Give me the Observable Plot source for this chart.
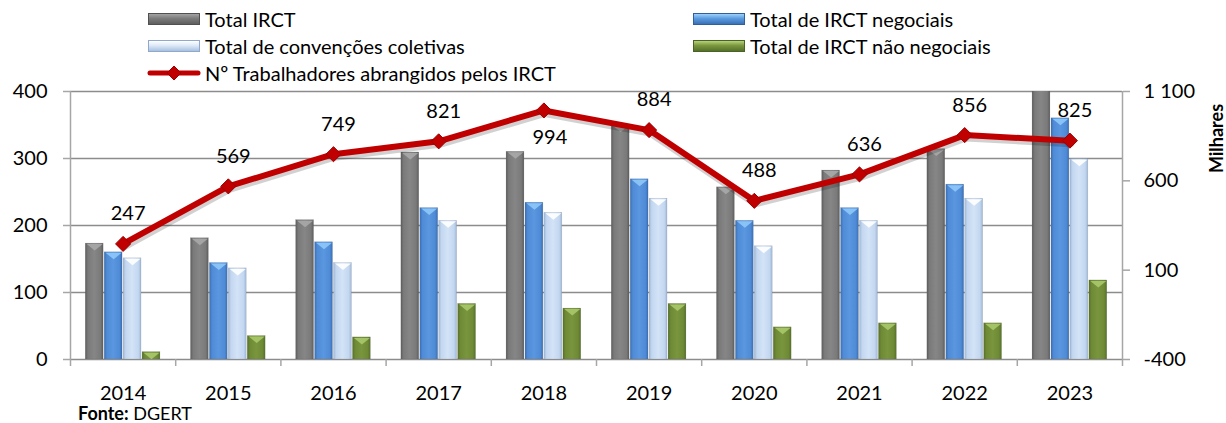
<!DOCTYPE html>
<html><head><meta charset="utf-8">
<script src="https://cdn.jsdelivr.net/npm/d3@7"></script>
<script src="https://cdn.jsdelivr.net/npm/@observablehq/plot@0.6"></script>
<style>
body{margin:0;background:#fff;font-family:Lato,"Open Sans",sans-serif;color:#000;width:1226px;height:423px;overflow:hidden;position:relative;}
#legend{position:relative;height:80px;font-size:20px;}
.li{position:absolute;display:flex;align-items:center;white-space:nowrap;height:22px;}
.sw{width:52px;height:12px;margin-right:5px;box-sizing:border-box;}
#chart{position:relative;height:320px;}
#caption{position:absolute;left:78px;top:402px;font-size:18px;line-height:22px;}
</style></head><body>
<svg width="0" height="0" style="position:absolute">
<defs>
<linearGradient id="gGray" x1="0" x2="1" y1="0" y2="0">
<stop offset="0" stop-color="#5c5c5c"/><stop offset="0.15" stop-color="#7a7a7a"/><stop offset="0.5" stop-color="#868686"/><stop offset="0.85" stop-color="#7a7a7a"/><stop offset="1" stop-color="#5c5c5c"/></linearGradient>
<linearGradient id="gBlue" x1="0" x2="1" y1="0" y2="0">
<stop offset="0" stop-color="#3a6fb5"/><stop offset="0.15" stop-color="#4f8bd6"/><stop offset="0.5" stop-color="#5a97e0"/><stop offset="0.85" stop-color="#4f8bd6"/><stop offset="1" stop-color="#3a6fb5"/></linearGradient>
<linearGradient id="gLight" x1="0" x2="1" y1="0" y2="0">
<stop offset="0" stop-color="#9fb8d8"/><stop offset="0.15" stop-color="#c3d7f0"/><stop offset="0.5" stop-color="#d3e3f7"/><stop offset="0.85" stop-color="#c3d7f0"/><stop offset="1" stop-color="#9fb8d8"/></linearGradient>
<linearGradient id="gGreen" x1="0" x2="1" y1="0" y2="0">
<stop offset="0" stop-color="#55702a"/><stop offset="0.15" stop-color="#6e8a35"/><stop offset="0.5" stop-color="#79953d"/><stop offset="0.85" stop-color="#6e8a35"/><stop offset="1" stop-color="#55702a"/></linearGradient>
</defs></svg>
<div id="legend"></div>
<div id="chart"></div>
<div id="caption"><b>Fonte:</b> DGERT</div>
<script>
// ---- data ----
const years = [2014, 2015, 2016, 2017, 2018, 2019, 2020, 2021, 2022, 2023];
const seriesNames = ["Total IRCT", "Total de IRCT negociais", "Total de convenções coletivas", "Total de IRCT não negociais"];
const totalIRCT    = [173, 181, 208, 309, 310, 350, 257, 282, 314, 478];
const negociais    = [160, 144, 175, 226, 234, 269, 207, 226, 261, 360];
const convencoes   = [151, 136, 144, 207, 219, 240, 169, 207, 240, 299];
const naoNegociais = [11, 35, 33, 83, 76, 83, 48, 54, 54, 118];
const lineName = "Nº Trabalhadores abrangidos pelos IRCT";
const trabalhadores = [247, 569, 749, 821, 994, 884, 488, 636, 856, 825];
const leftTicks = [0, 100, 200, 300, 400];
const rightTicks = [-400, 100, 600, 1100];
const rightLabel = "Milhares";

// ---- styles ----
const fills = ["url(#gGray)", "url(#gBlue)", "url(#gLight)", "url(#gGreen)"];
const capFills = ["#a8a8a8", "#8fc8f8", "#ffffff", "#a9c96c"];
const legendBg = [
  "linear-gradient(#a3a3a3,#7b7b7b 45%,#5f5f5f)",
  "linear-gradient(#9fd0fb,#5b9be0 45%,#3b70b5)",
  "linear-gradient(#ffffff,#dde9f8 45%,#a9c1df)",
  "linear-gradient(#b5d37a,#7b983f 45%,#55702a)"
];
const legendBorder = ["#505050", "#2f5f9d", "#8ea9cc", "#4a6324"];
const red = "#c00000";

// right axis mapping (linear relation between the two axes)
const [rMin, rMax] = [rightTicks[0], rightTicks[rightTicks.length - 1]];
const [lMin, lMax] = [leftTicks[0], leftTicks[leftTicks.length - 1]];
const toLeft = v => lMin + (v - rMin) * (lMax - lMin) / (rMax - rMin);
const toRight = v => rMin + (v - lMin) * (rMax - rMin) / (lMax - lMin);
const fmt = d3.formatLocale({decimal: ",", thousands: " ", grouping: [3], currency: ["", "€"], minus: "-"}).format(",d");

// ---- table ----
const seriesValues = [totalIRCT, negociais, convencoes, naoNegociais];
const bars = [];
seriesValues.forEach((vals, s) => years.forEach((yr, i) => bars.push({year: yr, s, value: vals[i]})));
const line = years.map((yr, i) => ({year: yr, v: trabalhadores[i]}));
const step = 0.18, bw = 0.17;
const cx = d => d.year + (d.s - 1.5) * step;
const xDomain = [years[0] - 0.5, years[years.length - 1] + 0.5];
const bounds = years.map(y => y - 0.5).concat([years[years.length - 1] + 0.5]);

// ---- legend ----
const legend = document.getElementById("legend");
const items = [
  {i: 0, left: 148, top: 8}, {i: 1, left: 693, top: 8},
  {i: 2, left: 148, top: 35}, {i: 3, left: 693, top: 35}
];
items.forEach(({i, left, top}) => {
  const el = document.createElement("div");
  el.className = "li"; el.style.left = left + "px"; el.style.top = top + "px";
  el.innerHTML = `<div class="sw" style="background:${legendBg[i]};border:1px solid ${legendBorder[i]}"></div><span>${seriesNames[i]}</span>`;
  legend.appendChild(el);
});
{
  const el = document.createElement("div");
  el.className = "li"; el.style.left = "146px"; el.style.top = "62px";
  el.innerHTML = `<svg width="56" height="16" style="margin-right:3px"><line x1="4" x2="52" y1="8" y2="8" stroke="${red}" stroke-width="5" stroke-linecap="round"/><path d="M28,1 L35,8 L28,15 L21,8Z" fill="${red}" stroke="#a00000"/></svg><span>${lineName}</span>`;
  legend.appendChild(el);
}

// custom flat inverted triangle symbol for bar caps
const capSymbol = {draw(ctx) { ctx.moveTo(-8, -3); ctx.lineTo(8, -3); ctx.lineTo(0, 3.5); ctx.closePath(); }};

const marks = [
  Plot.gridY(leftTicks.slice(1), {stroke: "#8c8c8c", strokeOpacity: 1, strokeWidth: 1.5}),
  Plot.ruleY([lMin], {stroke: "#8c8c8c", strokeWidth: 1.5}),
  Plot.rectY(bars, {x1: d => cx(d) - bw / 2, x2: d => cx(d) + bw / 2, y1: 0, y2: "value",
    fill: d => fills[d.s], stroke: "#555", strokeOpacity: 0.25, strokeWidth: 0.5, clip: true})
];
seriesValues.forEach((_, s) => {
  marks.push(Plot.dot(bars.filter(d => d.s === s && d.value <= lMax), {x: cx, y: "value", symbol: capSymbol, fill: capFills[s], stroke: "none", dy: 3.5, r: 5, fillOpacity: 0.9}));
});
marks.push(
  Plot.ruleX(xDomain, {stroke: "#a6a6a6", strokeWidth: 1.5}),
  Plot.axisX(bounds, {tickSize: 7, tickFormat: () => "", stroke: "#a6a6a6", strokeWidth: 1.5, label: null}),
  Plot.axisX(years, {tickSize: 0, tickPadding: 26, tickFormat: d => String(d), fontSize: 20, fill: "#000", label: null}),
  Plot.axisY(leftTicks, {anchor: "left", tickSize: 7, tickPadding: 16, tickFormat: d => fmt(d), fontSize: 20, fill: "#000", stroke: "#a6a6a6", strokeWidth: 1.5, label: null}),
  Plot.axisY(rightTicks.map(toLeft), {anchor: "right", tickSize: 7, tickPadding: 14, tickFormat: d => fmt(Math.round(toRight(d))), fontSize: 20, fill: "#000", stroke: "#a6a6a6", strokeWidth: 1.5, label: null}),
  Plot.line(line, {x: "year", y: d => toLeft(d.v), stroke: "#000", strokeOpacity: 0.18, strokeWidth: 7, dy: 3, dx: 1}),
  Plot.line(line, {x: "year", y: d => toLeft(d.v), stroke: red, strokeWidth: 6}),
  Plot.dot(line, {x: "year", y: d => toLeft(d.v), symbol: "diamond2", r: 6.8, fill: red, stroke: "#9a0000", strokeWidth: 1}),
  Plot.text(line, {filter: d => d.year !== 2018, x: "year", y: d => toLeft(d.v), text: d => fmt(d.v), dx: 5, dy: -30, fontSize: 20, fill: "#000"}),
  Plot.text(line, {filter: d => d.year === 2018, x: "year", y: d => toLeft(d.v), text: d => fmt(d.v), dx: 6, dy: 27, fontSize: 20, fill: "#000"}),
  Plot.text([rightLabel], {frameAnchor: "top-right", text: d => d, rotate: -90, textAnchor: "middle", lineAnchor: "middle", dx: 95, dy: 47, fontSize: 18, fontWeight: "bold", fill: "#000"})
);

const chart = Plot.plot({
  width: 1226, height: 320,
  marginTop: 11, marginBottom: 41, marginLeft: 70, marginRight: 104,
  x: {type: "linear", domain: xDomain, axis: null},
  y: {domain: [lMin, lMax], axis: null},
  style: {fontFamily: "Lato, 'Open Sans', sans-serif", fontSize: "20px", color: "#000", background: "transparent", overflow: "visible"},
  marks
});
document.getElementById("chart").appendChild(chart);
</script>
</body></html>
